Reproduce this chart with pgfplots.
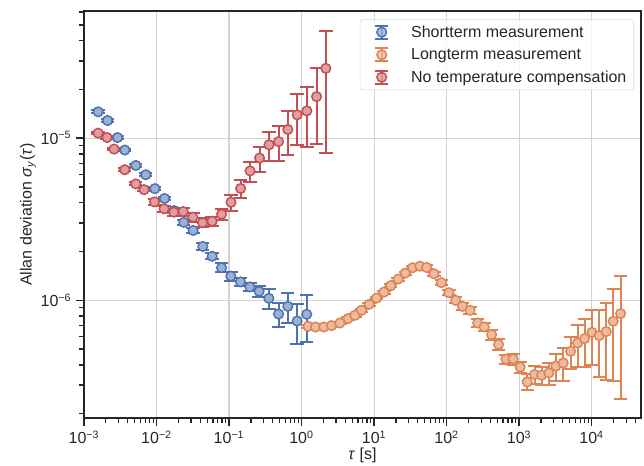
\documentclass[border=0pt]{standalone}
\usepackage{fontspec}
\setmainfont{Liberation Sans}
\usepackage{pgfplots}
\pgfplotsset{compat=1.18}
\usepackage{pgfplotstable}

\definecolor{cBlue}{HTML}{4C72B0}
\definecolor{cOrange}{HTML}{DD8452}
\definecolor{cRed}{HTML}{C44E52}
\definecolor{cText}{HTML}{262626}

% tau, sigma, error
\pgfplotstableread{
x y e
1.565e-3 1.456e-5 0.030e-5
2.11e-3  1.287e-5 0.026e-5
2.90e-3  1.010e-5 0.020e-5
3.65e-3  8.46e-6  0.17e-6
5.18e-3  6.80e-6  0.14e-6
7.11e-3  5.96e-6  0.12e-6
9.48e-3  4.89e-6  0.10e-6
1.29e-2  4.25e-6  0.09e-6
1.75e-2  3.58e-6  0.10e-6
2.38e-2  3.03e-6  0.10e-6
3.20e-2  2.70e-6  0.10e-6
4.35e-2  2.15e-6  0.11e-6
5.85e-2  1.87e-6  0.08e-6
7.89e-2  1.59e-6  0.10e-6
0.106    1.41e-6  0.09e-6
0.144    1.30e-6  0.07e-6
0.194    1.21e-6  0.07e-6
0.260    1.136e-6 0.085e-6
0.354    1.03e-6  0.15e-6
0.482    8.24e-7  1.38e-7
0.647    9.18e-7  1.98e-7
0.869    7.46e-7  2.08e-7
1.18     8.20e-7  2.64e-7
}\shortterm

\pgfplotstableread{
x y e
1.233 6.92e-7 1.2e-8
1.56  6.85e-7 1.2e-8
2.03  6.85e-7 1.2e-8
2.59  6.99e-7 1.2e-8
3.38  7.25e-7 1.3e-8
4.39  7.72e-7 1.4e-8
5.44  8.09e-7 1.5e-8
6.72  8.68e-7 1.6e-8
8.56  9.45e-7 1.8e-8
10.8  1.033e-6 2.0e-8
13.7  1.125e-6 2.3e-8
17.0  1.232e-6 2.6e-8
21.5  1.352e-6 3.0e-8
26.9  1.472e-6 3.4e-8
34.0  1.589e-6 3.8e-8
42.8  1.626e-6 4.2e-8
53.0  1.596e-6 4.5e-8
66.8  1.460e-6 4.6e-8
84.8  1.285e-6 4.5e-8
107.6 1.115e-6 4.3e-8
133.5 1.000e-6 4.2e-8
166.2 9.19e-7 4.2e-8
211   8.68e-7 4.3e-8
268   7.25e-7 4.0e-8
330   6.85e-7 4.2e-8
418   6.15e-7 4.2e-8
521   5.34e-7 4.0e-8
658   4.34e-7 2.9e-8
829   4.35e-7 3.5e-8
1035  3.87e-7 3.0e-8
1293  3.14e-7 3.6e-8
1636  3.49e-7 4.4e-8
2044  3.45e-7 4.4e-8
2577  3.57e-7 5.6e-8
3218  3.93e-7 7.7e-8
4058  4.11e-7 9.4e-8
5132  4.85e-7 1.10e-7
6410  5.46e-7 1.56e-7
8008  5.81e-7 1.91e-7
10096 6.35e-7 2.33e-7
12728 6.06e-7 2.71e-7
15898 6.42e-7 3.20e-7
19860 7.43e-7 4.25e-7
25120 8.28e-7 5.82e-7
}\longterm

\pgfplotstableread{
x y e
1.565e-3 1.076e-5 0.020e-5
2.08e-3  1.011e-5 0.020e-5
2.60e-3  8.58e-6  0.17e-6
3.65e-3  6.40e-6  0.13e-6
5.18e-3  5.23e-6  0.11e-6
6.74e-3  4.82e-6  0.10e-6
9.38e-3  4.05e-6  0.16e-6
1.273e-2 3.67e-6  0.15e-6
1.732e-2 3.50e-6  0.18e-6
2.33e-2  3.53e-6  0.21e-6
3.17e-2  3.26e-6  0.20e-6
4.31e-2  3.01e-6  0.19e-6
5.85e-2  3.08e-6  0.20e-6
7.89e-2  3.40e-6  0.25e-6
0.1066   4.03e-6  0.46e-6
0.1446   4.90e-6  0.63e-6
0.195    6.29e-6  0.90e-6
0.2635   7.55e-6  1.32e-6
0.356    9.12e-6  1.89e-6
0.482    9.54e-6  2.34e-6
0.647    1.133e-5 3.43e-6
0.870    1.395e-5 4.92e-6
1.183    1.476e-5 5.90e-6
1.61     1.808e-5 8.90e-6
2.164    2.70e-5  1.89e-5
}\notemp

\pgfplotsset{
  errplot/.style={only marks, mark=*, mark size=3.6pt,
    mark options={draw=#1, fill=#1!55!white, line width=1.1pt},
    error bars/y dir=both, error bars/y explicit,
    error bars/error mark=-,
    error bars/error bar style={#1, line width=1.5pt},
    error bars/error mark options={rotate=90, #1, line width=1.5pt, mark size=5pt}},
  errleg/.style={legend image code/.code={
    \path[draw=none, fill=none] (-10.7pt,-7.5pt) rectangle (22.1pt,7.5pt);
    \draw[#1, line width=1.5pt] (0pt,-4.75pt) -- (0pt,4.75pt)
      (-4.75pt,-4.75pt) -- (4.75pt,-4.75pt) (-4.75pt,4.75pt) -- (4.75pt,4.75pt);
    \draw[#1, fill=#1!55!white, line width=1.1pt] (0pt,0pt) circle (3.6pt);}},
}

\begin{document}
\begin{tikzpicture}
\begin{axis}[
  scale only axis, width=417.75pt, height=305.25pt,
  xmode=log, ymode=log, log basis x=10, log basis y=10,
  xmin=1e-3, xmax=4.8e4, ymin=1.88e-7, ymax=6.1e-5,
  axis line style={cText, line width=1.25pt},
  tick align=outside, xtick pos=left, ytick pos=left,
  major tick length=6pt, minor tick length=4pt,
  every major tick/.append style={cText, line width=1.25pt},
  every minor tick/.append style={cText, line width=1pt},
  grid=major, major grid style={gray!35, line width=0.8pt},
  font=\fontsize{12}{14.4}\selectfont,
  tick label style={cText, font=\fontsize{12}{14.4}\selectfont},
  xticklabel={\pgfmathtruncatemacro{\myexp}{round(\tick)}10\textsuperscript{\ifnum\myexp<0 −\number-\myexp\else\myexp\fi}},
  yticklabel={\pgfmathtruncatemacro{\myexp}{round(\tick)}10\textsuperscript{\ifnum\myexp<0 −\number-\myexp\else\myexp\fi}},
  xlabel={\textit{τ} [s]},
  ylabel={Allan deviation \textit{σ}\textsubscript{\textit{y}}(\textit{τ})},
  xlabel style={at={(axis description cs:0.5,-0.0909)}, anchor=center, text=cText},
  ylabel style={at={(axis description cs:-0.1005,0.5)}, anchor=center, text=cText},
  legend cell align=left,
  legend style={at={(axis description cs:1,1)}, anchor=north east,
    xshift=-5.25pt, yshift=-6.2pt, draw=gray!30, rounded corners=2pt,
    fill=white, fill opacity=0.8, text opacity=1,
    inner xsep=5.5pt, inner ysep=2pt, row sep=1.9pt,
    nodes={inner sep=0pt, text=cText},
    font=\fontsize{12}{14.4}\selectfont},
]
\addplot[errplot=cBlue, errleg=cBlue] table[x=x, y=y, y error=e] {\shortterm};
\addlegendentry{Shortterm measurement}
\addplot[errplot=cOrange, errleg=cOrange] table[x=x, y=y, y error=e] {\longterm};
\addlegendentry{Longterm measurement}
\addplot[errplot=cRed, errleg=cRed] table[x=x, y=y, y error=e] {\notemp};
\addlegendentry{No temperature compensation}
\coordinate (sw) at (rel axis cs:0,0);
\coordinate (ne) at (rel axis cs:1,1);
\end{axis}
\pgfresetboundingbox
\path[use as bounding box] ([shift={(-63pt,-36pt)}]sw) rectangle ([shift={(2.25pt,8.25pt)}]ne);
\end{tikzpicture}
\end{document}
